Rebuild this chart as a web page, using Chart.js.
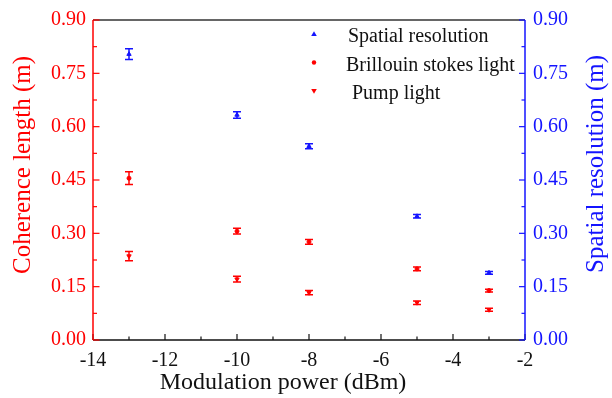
<!DOCTYPE html>
<html>
<head>
<meta charset="utf-8">
<script src="https://cdn.jsdelivr.net/npm/chart.js@4.4.1/dist/chart.umd.min.js"></script>
<style>
  html, body { margin: 0; padding: 0; background: #fff; }
  #wrap { width: 612px; height: 398px; }
</style>
</head>
<body>
<div id="wrap"><canvas id="myChart" width="612" height="398"></canvas></div>
<script>
// data
var potenze = [-13, -10, -8, -5, -3];
var risoluzione = [0.804, 0.633, 0.545, 0.348, 0.189];
var erroreRisoluzione = [0.015, 0.009, 0.007, 0.005, 0.004];
var stokes = [0.455, 0.306, 0.276, 0.200, 0.139];
var erroreStokes = [0.018, 0.008, 0.007, 0.005, 0.004];
var pompa = [0.236, 0.171, 0.133, 0.105, 0.085];
var errorePompa = [0.013, 0.008, 0.006, 0.005, 0.004];
var xTicks = [-14, -12, -10, -8, -6, -4, -2];
var yTicks = [0, 0.15, 0.30, 0.45, 0.60, 0.75, 0.90];

var ROSSO = 'rgb(255,0,0)';
var BLU = 'rgb(20,20,255)';
var FONT = 'Liberation Serif';

Chart.defaults.font.family = FONT;

function punti(valori) {
  var out = [];
  for (var i = 0; i < potenze.length; i++) {
    out.push({ x: potenze[i], y: valori[i] });
  }
  return out;
}

// error bars, drawn through the scales
var barreErrore = {
  id: 'barreErrore',
  afterDatasetsDraw: function(chart) {
    var ctx = chart.ctx;
    var errori = [erroreRisoluzione, erroreStokes, errorePompa];
    chart.data.datasets.forEach(function(ds, d) {
      var meta = chart.getDatasetMeta(d);
      var scala = chart.scales[ds.yAxisID];
      ctx.save();
      ctx.strokeStyle = ds.borderColor;
      ctx.lineWidth = 1.5;
      for (var i = 0; i < meta.data.length; i++) {
        var x = meta.data[i].x;
        var y1 = scala.getPixelForValue(ds.data[i].y + errori[d][i]);
        var y2 = scala.getPixelForValue(ds.data[i].y - errori[d][i]);
        ctx.beginPath();
        ctx.moveTo(x, y1); ctx.lineTo(x, y2);
        ctx.moveTo(x - 4, y1); ctx.lineTo(x + 4, y1);
        ctx.moveTo(x - 4, y2); ctx.lineTo(x + 4, y2);
        ctx.stroke();
      }
      ctx.restore();
    });
  }
};

// frame, inward ticks, titles and legend
var cornice = {
  id: 'cornice',
  afterDraw: function(chart) {
    var ctx = chart.ctx;
    var a = chart.chartArea;
    var sx = chart.scales.x, sl = chart.scales.yL, sr = chart.scales.yR;
    ctx.save();
    ctx.lineWidth = 1.5;
    // top and bottom
    ctx.strokeStyle = '#333';
    ctx.beginPath(); ctx.moveTo(a.left, a.top); ctx.lineTo(a.right, a.top); ctx.stroke();
    ctx.strokeStyle = '#111';
    ctx.beginPath(); ctx.moveTo(a.left, a.bottom); ctx.lineTo(a.right, a.bottom); ctx.stroke();
    // x ticks (major + minor)
    ctx.lineWidth = 1.2;
    for (var v = -14; v <= -2; v += 1) {
      var px = sx.getPixelForValue(v);
      var len = (v % 2 === 0) ? 6 : 3.5;
      ctx.beginPath(); ctx.moveTo(px, a.bottom); ctx.lineTo(px, a.bottom - len); ctx.stroke();
    }
    // left axis
    ctx.lineWidth = 1.5;
    ctx.strokeStyle = ROSSO;
    ctx.beginPath(); ctx.moveTo(a.left, a.top); ctx.lineTo(a.left, a.bottom); ctx.stroke();
    ctx.lineWidth = 1.2;
    for (var k = 0; k <= 12; k++) {
      var py = sl.getPixelForValue(k * 0.075);
      var l2 = (k % 2 === 0) ? 6.5 : 4;
      ctx.beginPath(); ctx.moveTo(a.left, py); ctx.lineTo(a.left + l2, py); ctx.stroke();
    }
    // right axis
    ctx.lineWidth = 1.5;
    ctx.strokeStyle = BLU;
    ctx.beginPath(); ctx.moveTo(a.right, a.top); ctx.lineTo(a.right, a.bottom); ctx.stroke();
    ctx.lineWidth = 1.2;
    for (var k = 0; k <= 12; k++) {
      var py = sr.getPixelForValue(k * 0.075);
      var l3 = (k % 2 === 0) ? 6 : 3.5;
      ctx.beginPath(); ctx.moveTo(a.right, py); ctx.lineTo(a.right - l3, py); ctx.stroke();
    }
    // axis titles
    ctx.textAlign = 'center';
    ctx.textBaseline = 'alphabetic';
    ctx.fillStyle = '#111';
    ctx.font = '24px "' + FONT + '"';
    ctx.fillText('Modulation power (dBm)', 283, 389);
    ctx.save();
    ctx.translate(30, 165);
    ctx.rotate(-Math.PI / 2);
    ctx.fillStyle = ROSSO;
    ctx.font = '25px "' + FONT + '"';
    ctx.fillText('Coherence length (m)', 0, 0);
    ctx.restore();
    ctx.save();
    ctx.translate(603, 164);
    ctx.rotate(-Math.PI / 2);
    ctx.fillStyle = BLU;
    ctx.font = '25px "' + FONT + '"';
    ctx.fillText('Spatial resolution (m)', 0, 0);
    ctx.restore();
    // legend
    var xs = [348, 346, 352];
    chart.data.datasets.forEach(function(ds, d) {
      var my = 34 + d * 28.5;
      ctx.fillStyle = ds.backgroundColor;
      ctx.beginPath();
      if (ds.pointStyle === 'circle') {
        ctx.arc(314, my, 2.2, 0, Math.PI * 2);
      } else if (!ds.rotation) {
        ctx.moveTo(314, my - 2.8); ctx.lineTo(316.8, my + 2); ctx.lineTo(311.2, my + 2);
      } else {
        ctx.moveTo(314, my + 2.8); ctx.lineTo(316.8, my - 2); ctx.lineTo(311.2, my - 2);
      }
      ctx.fill();
      ctx.fillStyle = '#111';
      ctx.font = '20px "' + FONT + '"';
      ctx.textAlign = 'left';
      ctx.fillText(ds.label, xs[d], my + 8);
    });
    ctx.restore();
  }
};

var ctx = document.getElementById('myChart').getContext('2d');
var chart = new Chart(ctx, {
  type: 'scatter',
  data: {
    datasets: [{
      label: 'Spatial resolution',
      data: punti(risoluzione),
      yAxisID: 'yR',
      backgroundColor: BLU,
      borderColor: BLU,
      pointStyle: 'triangle',
      pointRadius: 2.5
    }, {
      label: 'Brillouin stokes light',
      data: punti(stokes),
      yAxisID: 'yL',
      backgroundColor: ROSSO,
      borderColor: ROSSO,
      pointStyle: 'circle',
      pointRadius: 2
    }, {
      label: 'Pump light',
      data: punti(pompa),
      yAxisID: 'yL',
      backgroundColor: ROSSO,
      borderColor: ROSSO,
      pointStyle: 'triangle',
      rotation: 180,
      pointRadius: 2.5
    }]
  },
  options: {
    responsive: false,
    animation: false,
    layout: { padding: { top: 17, left: 0, right: 0, bottom: 0 } },
    plugins: { legend: { display: false }, tooltip: { enabled: false } },
    scales: {
      x: {
        type: 'linear', min: -14, max: -2,
        afterBuildTicks: function(s) { s.ticks = xTicks.map(function(v) { return { value: v }; }); },
        afterFit: function(s) { s.height = 58; },
        grid: { display: false, drawTicks: false },
        border: { display: false },
        ticks: { color: '#111', font: { family: FONT, size: 20 }, padding: 9, maxRotation: 0,
                 callback: function(v) { return String(v); } }
      },
      yL: {
        type: 'linear', position: 'left', min: 0, max: 0.9,
        afterBuildTicks: function(s) { s.ticks = yTicks.map(function(v) { return { value: v }; }); },
        afterFit: function(s) { s.width = 93; },
        grid: { display: false, drawTicks: false },
        border: { display: false },
        ticks: { color: ROSSO, font: { family: FONT, size: 20 }, padding: 7,
                 callback: function(v) { return v.toFixed(2); } }
      },
      yR: {
        type: 'linear', position: 'right', min: 0, max: 0.9,
        afterBuildTicks: function(s) { s.ticks = yTicks.map(function(v) { return { value: v }; }); },
        afterFit: function(s) { s.width = 87; },
        grid: { display: false, drawTicks: false },
        border: { display: false },
        ticks: { color: BLU, font: { family: FONT, size: 20 }, padding: 8,
                 callback: function(v) { return v.toFixed(2); } }
      }
    }
  },
  plugins: [barreErrore, cornice]
});
</script>
</body>
</html>
